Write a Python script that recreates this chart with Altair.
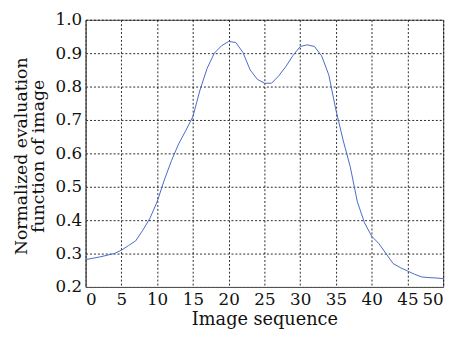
import altair as alt
import pandas as pd

seq = list(range(0, 51))
values = [
    0.282, 0.286, 0.290, 0.295, 0.300, 0.310, 0.324, 0.338, 0.370, 0.406,
    0.455, 0.520, 0.578, 0.628, 0.668, 0.710, 0.790, 0.855, 0.900, 0.922,
    0.935, 0.932, 0.902, 0.850, 0.822, 0.810, 0.810, 0.832, 0.860, 0.893,
    0.920, 0.925, 0.920, 0.892, 0.835, 0.730, 0.640, 0.560, 0.455, 0.392,
    0.352, 0.330, 0.300, 0.270, 0.258, 0.248, 0.238, 0.230, 0.228, 0.227,
    0.225,
]
x_ticks = [0, 5, 10, 15, 20, 25, 30, 35, 40, 45, 50]
y_ticks = [0.2, 0.3, 0.4, 0.5, 0.6, 0.7, 0.8, 0.9, 1.0]
y_title = ["Normalized evaluation", "function of image"]

df = pd.DataFrame({"seq": seq, "value": values})

FONT = "DejaVu Serif"

line = alt.Chart(df).mark_line(color="#4a68c8", strokeWidth=1).encode(
    x=alt.X("seq:Q", scale=alt.Scale(domain=[0, 50], nice=False),
            axis=alt.Axis(values=x_ticks, title="Image sequence", format="d",
                          labelPadding=5, titlePadding=3)),
    y=alt.Y("value:Q", scale=alt.Scale(domain=[0.2, 1.0], nice=False, zero=False),
            axis=alt.Axis(values=y_ticks, title=None, format=".1f", labelPadding=4)),
)

ytitle = alt.Chart(pd.DataFrame({"k": [0]})).mark_text(
    text=y_title, angle=270, align="center", baseline="middle",
    font=FONT, fontSize=17.5, lineHeight=18, color="#111111",
).encode(x=alt.value(-65), y=alt.value(139))

chart = alt.layer(line, ytitle).properties(
    width=364, height=272,
    autosize=alt.AutoSizeParams(type="none"),
    padding={"left": 79, "top": 9, "right": 11, "bottom": 51},
).configure_view(
    stroke="#555555", strokeWidth=1
).configure_axis(
    labelFont=FONT, titleFont=FONT, labelFontSize=17, titleFontSize=18,
    labelColor="#111111", titleColor="#111111", titleFontWeight="normal",
    grid=True, gridColor="#000000", gridOpacity=0.85, gridDash=[2, 2], gridWidth=1,
    domainColor="#555555", ticks=False,
)

chart.save("out.html", embed_options={"renderer": "svg", "actions": False})
